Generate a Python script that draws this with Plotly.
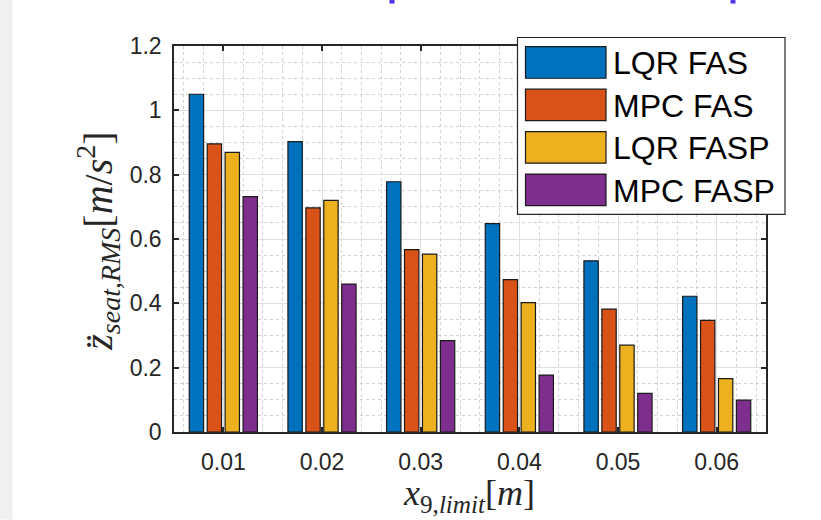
import plotly.graph_objects as go

categories = ["0.01", "0.02", "0.03", "0.04", "0.05", "0.06"]
series_names = ["LQR FAS", "MPC FAS", "LQR FASP", "MPC FASP"]
lqr_fas = [1.05, 0.903, 0.778, 0.648, 0.532, 0.422]
mpc_fas = [0.896, 0.697, 0.567, 0.474, 0.382, 0.347]
lqr_fasp = [0.869, 0.720, 0.553, 0.402, 0.270, 0.166]
mpc_fasp = [0.732, 0.460, 0.284, 0.177, 0.120, 0.099]
colors = ["#0072BD", "#D95319", "#EDB120", "#7E2F8E"]
y_ticks = [0, 0.2, 0.4, 0.6, 0.8, 1.0, 1.2]
y_ticklabels = ["0", "0.2", "0.4", "0.6", "0.8", "1", "1.2"]

series = [lqr_fas, mpc_fas, lqr_fasp, mpc_fasp]
xpos = list(range(1, len(categories) + 1))

W, H = 821, 520
L, R, T, B = 174, 766, 46, 432.5


def px(x):
    return (x - L) / (R - L)


def py(y):
    return (B - y) / (B - T)


fig = go.Figure()
for name, vals, c in zip(series_names, series, colors):
    fig.add_trace(go.Bar(
        x=xpos, y=vals, name=name,
        marker=dict(color=c, line=dict(color="#1a1a1a", width=1.2)),
        showlegend=False,
    ))

axis_common = dict(
    showline=True, linecolor="#262626", linewidth=1.5, mirror="ticks",
    ticks="inside", ticklen=5, tickwidth=1.5, tickcolor="#262626",
    showgrid=True, gridcolor="#e0e0e0", gridwidth=1,
    tickfont=dict(family="Liberation Sans, Arial", size=23, color="#262626"),
    zeroline=False,
)

fig.update_xaxes(
    **axis_common,
    range=[0.5, 6.5], tickmode="array", tickvals=xpos, ticktext=categories,
    ticklabelstandoff=9,
    minor=dict(dtick=0.2, tick0=0, showgrid=True, gridcolor="#d2d2d2",
               griddash="dot", gridwidth=1, ticks=""),
)
fig.update_yaxes(
    **axis_common,
    range=[0, 1.2], tickmode="array", tickvals=y_ticks, ticktext=y_ticklabels,
    ticklabelstandoff=6,
    minor=dict(dtick=0.05, tick0=0, showgrid=True, gridcolor="#d2d2d2",
               griddash="dot", gridwidth=1, ticks=""),
)

shapes = []
annotations = []

# left gray strip of the window
shapes.append(dict(type="rect", xref="paper", yref="paper",
                   x0=px(0), x1=px(12.5), y0=py(H), y1=py(0),
                   fillcolor="#f0f0f0", line=dict(width=0), layer="below"))
# tiny remnants of cropped title
for cx in (392, 733):
    shapes.append(dict(type="rect", xref="paper", yref="paper",
                       x0=px(cx - 2.5), x1=px(cx + 2.5), y0=py(3.5), y1=py(0),
                       fillcolor="#4b32e6", line=dict(width=0)))

# legend box
shapes.append(dict(type="rect", xref="paper", yref="paper",
                   x0=px(517.5), x1=px(785), y0=py(214.5), y1=py(37.5),
                   fillcolor="white", line=dict(color="#262626", width=1.2)))
row_centers = [62.5, 105, 147.5, 190]
for name, c, yc in zip(series_names, colors, row_centers):
    shapes.append(dict(type="rect", xref="paper", yref="paper",
                       x0=px(525.5), x1=px(606), y0=py(yc + 15.8), y1=py(yc - 15.8),
                       fillcolor=c, line=dict(color="#1a1a1a", width=1.2)))
    annotations.append(dict(text=name, xref="paper", yref="paper",
                            x=px(611), y=py(yc + 1), xanchor="left", yanchor="middle",
                            showarrow=False,
                            font=dict(family="Liberation Sans, Arial", size=32, color="black")))

# axis titles
annotations.append(dict(
    text="<i>z̈</i><sub><i>seat,RMS</i></sub>[<i>m</i>/<i>s</i><sup>2</sup>]",
    xref="paper", yref="paper", x=px(98), y=py(242), textangle=-90,
    xanchor="center", yanchor="middle", showarrow=False,
    font=dict(family="Liberation Serif, DejaVu Serif", size=40, color="#262626")))
annotations.append(dict(
    text="<i>x</i><sub>9,<i>limit</i></sub>[<i>m</i>]",
    xref="paper", yref="paper", x=px(469), y=py(496),
    xanchor="center", yanchor="middle", showarrow=False,
    font=dict(family="Liberation Serif, DejaVu Serif", size=36, color="#262626")))

fig.update_layout(
    width=W, height=H,
    margin=dict(l=L, r=W - R, t=T, b=H - B, autoexpand=False),
    paper_bgcolor="white", plot_bgcolor="white",
    barmode="group", bargap=0.273, bargroupgap=0.2,
    shapes=shapes, annotations=annotations,
    showlegend=False,
)

fig.write_html("out.html")
